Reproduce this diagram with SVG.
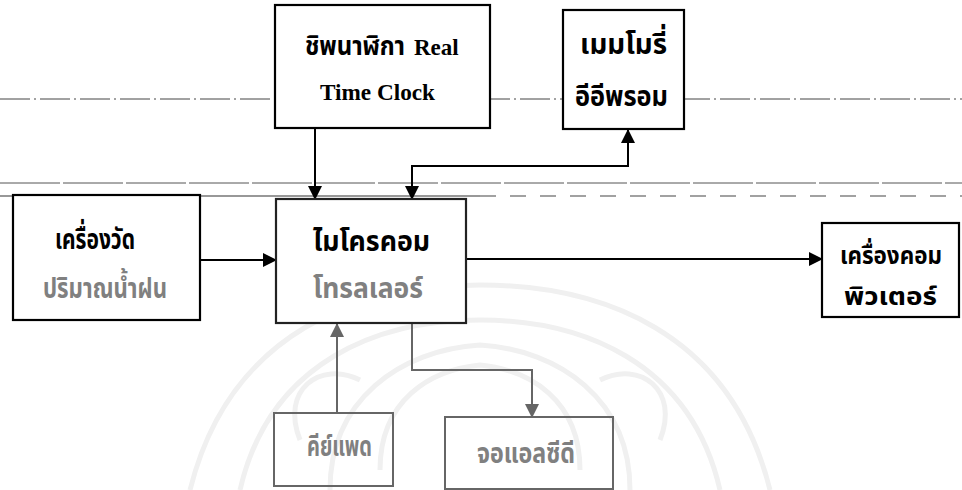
<svg xmlns="http://www.w3.org/2000/svg" width="962" height="490" viewBox="0 0 962 490">
<style>
.box{fill:#fff;stroke:#000;stroke-width:2.2}
.gbox{fill:none;stroke:#666;stroke-width:2}
.th{font-family:"Noto Sans Thai","Noto Sans","DejaVu Sans",sans-serif;font-weight:bold;font-size:29px;fill:#000}
.sm{font-size:27px}
.xs{font-size:25px}
.thg{fill:#808080}
.en{font-family:"Liberation Serif","Times New Roman",serif;font-weight:bold;font-size:23px;fill:#000}
.wire{fill:none;stroke:#000;stroke-width:2}
.gwire{fill:none;stroke:#666;stroke-width:2}
.wm{fill:none;stroke:#f0f0f0;stroke-width:5}
</style>
<defs>
<marker id="ah" viewBox="0 0 14 14" refX="13" refY="7" markerWidth="14" markerHeight="14" markerUnits="userSpaceOnUse" orient="auto">
<path d="M0,0 L14,7 L0,14 Z" fill="#000"/>
</marker>
<marker id="ahg" viewBox="0 0 14 14" refX="13" refY="7" markerWidth="14" markerHeight="14" markerUnits="userSpaceOnUse" orient="auto">
<path d="M0,0 L14,7 L0,14 Z" fill="#666"/>
</marker>
</defs>
<rect width="962" height="490" fill="#fff"/>
<g id="watermark">
<path class="wm" d="M190,490 C230,330 360,285 480,285 C600,285 730,330 770,490"/>
<path class="wm" d="M240,490 C270,360 380,320 480,320 C580,320 690,360 720,490"/>
<path class="wm" d="M330,490 C330,400 400,350 480,345 C560,350 630,400 630,490"/>
<path class="wm" d="M380,470 C380,400 430,370 480,365 C530,370 580,400 580,470"/>
<path class="wm" d="M300,440 C280,390 320,360 360,380"/>
<path class="wm" d="M660,440 C680,390 640,360 600,380"/>
</g>
<g id="scanlines">
<line x1="0" y1="99" x2="962" y2="99" stroke="#444" stroke-width="1" stroke-dasharray="30,4,2,4"/>
<line x1="0" y1="183" x2="962" y2="183" stroke="#555" stroke-width="1" stroke-dasharray="60,3"/>
<line x1="0" y1="196" x2="480" y2="196" stroke="#333" stroke-width="1.2"/>
<line x1="480" y1="196" x2="962" y2="196" stroke="#444" stroke-width="1.2" stroke-dasharray="16,14"/>
</g>
<g id="connectors">
<line class="wire" x1="315" y1="128" x2="315" y2="199" marker-end="url(#ah)"/>
<path class="wire" d="M412,185 L412,166 L628,166 L628,130" marker-end="url(#ah)"/>
<line class="wire" x1="412" y1="180" x2="412" y2="199" marker-end="url(#ah)"/>
<line class="wire" x1="200" y1="260" x2="276" y2="260" marker-end="url(#ah)"/>
<line class="wire" x1="466" y1="259" x2="822" y2="259" marker-end="url(#ah)"/>
<line class="gwire" x1="337" y1="413" x2="337" y2="324" marker-end="url(#ahg)"/>
<path class="gwire" d="M412,323 L412,370 L532,370 L532,417" marker-end="url(#ahg)"/>
</g>
<g id="rtc">
<rect class="box" x="275" y="5" width="215" height="123"/>
<text class="th sm" y="55"><tspan x="305" textLength="100" lengthAdjust="spacingAndGlyphs">ชิพนาฬิกา</tspan><tspan class="en" x="414">Real</tspan></text>
<text class="en" x="320" y="100" textLength="115" lengthAdjust="spacingAndGlyphs">Time Clock</text>
</g>
<g id="eeprom">
<rect class="box" x="563" y="10" width="121" height="119"/>
<text class="th" x="580" y="54" textLength="87" lengthAdjust="spacingAndGlyphs">เมมโมรี่</text>
<text class="th" x="575" y="106" textLength="93" lengthAdjust="spacingAndGlyphs">อีอีพรอม</text>
</g>
<g id="raingauge">
<rect class="box" x="13" y="195" width="187" height="125"/>
<text class="th" x="55" y="249" textLength="80" lengthAdjust="spacingAndGlyphs">เครื่องวัด</text>
<text class="th thg" x="43" y="298" textLength="124" lengthAdjust="spacingAndGlyphs">ปริมาณน้ำฝน</text>
</g>
<g id="mcu">
<rect class="box" x="276" y="199" width="190" height="124" style="stroke:#222"/>
<text class="th" x="313" y="251" textLength="117" lengthAdjust="spacingAndGlyphs">ไมโครคอม</text>
<text class="th thg" x="313" y="298" textLength="110" lengthAdjust="spacingAndGlyphs">โทรลเลอร์</text>
</g>
<g id="computer">
<rect class="box" x="822" y="223" width="137" height="94"/>
<text class="th xs" x="840" y="264" textLength="102" lengthAdjust="spacingAndGlyphs">เครื่องคอม</text>
<text class="th xs" x="844" y="305" textLength="93" lengthAdjust="spacingAndGlyphs">พิวเตอร์</text>
</g>
<g id="keypad">
<rect class="gbox" x="274" y="413" width="119" height="73"/>
<text class="th thg" x="307" y="456" textLength="65" lengthAdjust="spacingAndGlyphs">คีย์แพด</text>
</g>
<g id="lcd">
<rect class="gbox" x="445" y="417" width="168" height="72"/>
<text class="th thg" x="477" y="463" textLength="98" lengthAdjust="spacingAndGlyphs">จอแอลซีดี</text>
</g>
</svg>
